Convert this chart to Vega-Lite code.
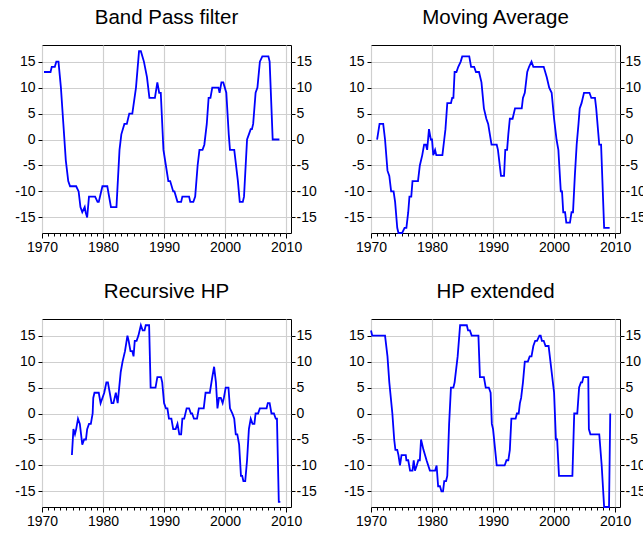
{
  "$schema": "https://vega.github.io/schema/vega-lite/v6.json",
  "padding": {"left": 14, "top": 7, "right": 0, "bottom": 0},
  "columns": 2,
  "spacing": {"column": 26, "row": 26},
  "datasets": {
    "bp": [
      {"t":1970.33,"v":13},{"t":1971.4,"v":13},{"t":1971.6,"v":14},{"t":1972.1,"v":14},{"t":1972.35,"v":15},{"t":1972.7,"v":15},
      {"t":1973.1,"v":10},{"t":1973.5,"v":3},{"t":1973.9,"v":-4},{"t":1974.3,"v":-8},{"t":1974.6,"v":-9},{"t":1975.6,"v":-9},
      {"t":1976.0,"v":-10},{"t":1976.3,"v":-13},{"t":1976.6,"v":-14},{"t":1977.0,"v":-13},{"t":1977.15,"v":-14},{"t":1977.4,"v":-15},
      {"t":1977.7,"v":-11},{"t":1978.7,"v":-11},{"t":1979.1,"v":-12},{"t":1979.3,"v":-12},{"t":1979.9,"v":-9},{"t":1980.7,"v":-9},
      {"t":1981.3,"v":-13},{"t":1982.2,"v":-13},{"t":1982.7,"v":-2},{"t":1983.0,"v":1},{"t":1983.5,"v":3},{"t":1983.9,"v":3},
      {"t":1984.3,"v":5},{"t":1984.8,"v":5},{"t":1985.4,"v":10},{"t":1985.9,"v":17},{"t":1986.2,"v":17},{"t":1986.7,"v":15},
      {"t":1987.2,"v":12},{"t":1987.6,"v":8},{"t":1988.5,"v":8},{"t":1988.9,"v":11},{"t":1989.2,"v":9},{"t":1989.46,"v":9},
      {"t":1989.9,"v":-2},{"t":1990.3,"v":-5},{"t":1990.7,"v":-8},{"t":1991.0,"v":-8},{"t":1991.5,"v":-10},{"t":1991.7,"v":-10},
      {"t":1992.2,"v":-12},{"t":1992.8,"v":-12},{"t":1993.0,"v":-11},{"t":1994.1,"v":-11},{"t":1994.3,"v":-12},{"t":1994.8,"v":-12},
      {"t":1995.1,"v":-11},{"t":1995.5,"v":-5},{"t":1995.8,"v":-2},{"t":1996.3,"v":-2},{"t":1996.6,"v":-1},{"t":1997.0,"v":3},
      {"t":1997.3,"v":8},{"t":1997.6,"v":8},{"t":1997.9,"v":10},{"t":1998.9,"v":10},{"t":1999.1,"v":9},{"t":1999.4,"v":11},
      {"t":1999.7,"v":11},{"t":2000.2,"v":9},{"t":2000.6,"v":1},{"t":2000.8,"v":-2},{"t":2001.5,"v":-2},{"t":2002.1,"v":-8},
      {"t":2002.4,"v":-12},{"t":2002.9,"v":-12},{"t":2003.1,"v":-11},{"t":2003.6,"v":0},{"t":2003.9,"v":1},{"t":2004.2,"v":2},
      {"t":2004.4,"v":2},{"t":2004.6,"v":3},{"t":2005.0,"v":9},{"t":2005.3,"v":10},{"t":2005.7,"v":15},{"t":2006.1,"v":16},
      {"t":2007.1,"v":16},{"t":2007.3,"v":15},{"t":2007.8,"v":0},{"t":2008.9,"v":0}
    ],
    "ma": [
      {"t":1971.0,"v":0},{"t":1971.4,"v":3},{"t":1972.0,"v":3},{"t":1972.3,"v":0},{"t":1972.7,"v":-6},{"t":1973.0,"v":-7},
      {"t":1973.3,"v":-10},{"t":1973.7,"v":-10},{"t":1973.95,"v":-12},{"t":1974.3,"v":-17},{"t":1974.5,"v":-18},{"t":1975.1,"v":-18},
      {"t":1975.5,"v":-17},{"t":1975.8,"v":-17},{"t":1976.1,"v":-14},{"t":1976.3,"v":-11},{"t":1976.6,"v":-11},{"t":1976.8,"v":-8},
      {"t":1977.7,"v":-8},{"t":1978.0,"v":-5},{"t":1978.4,"v":-3},{"t":1978.7,"v":-1},{"t":1979.0,"v":-1},{"t":1979.2,"v":-2},
      {"t":1979.5,"v":2},{"t":1979.8,"v":0},{"t":1980.0,"v":0},{"t":1980.2,"v":-3},{"t":1980.5,"v":-2},{"t":1980.7,"v":-3},
      {"t":1981.7,"v":-3},{"t":1982.0,"v":0},{"t":1982.2,"v":2},{"t":1982.5,"v":7},{"t":1983.1,"v":7},{"t":1983.3,"v":8},
      {"t":1983.5,"v":8},{"t":1983.7,"v":13},{"t":1984.0,"v":13},{"t":1984.3,"v":14},{"t":1984.7,"v":15},{"t":1984.95,"v":16},
      {"t":1986.1,"v":16},{"t":1986.4,"v":14},{"t":1986.9,"v":14},{"t":1987.2,"v":13},{"t":1987.7,"v":13},{"t":1988.1,"v":11},
      {"t":1988.5,"v":6},{"t":1988.9,"v":4},{"t":1989.2,"v":3},{"t":1989.75,"v":-1},{"t":1990.6,"v":-1},{"t":1990.8,"v":-2},
      {"t":1991.3,"v":-7},{"t":1991.8,"v":-7},{"t":1992.0,"v":-2},{"t":1992.3,"v":-2},{"t":1992.5,"v":1},{"t":1992.75,"v":4},
      {"t":1993.2,"v":4},{"t":1993.6,"v":6},{"t":1994.7,"v":6},{"t":1994.9,"v":8},{"t":1995.2,"v":9},{"t":1995.6,"v":13},
      {"t":1995.9,"v":14},{"t":1996.3,"v":15},{"t":1996.6,"v":14},{"t":1998.3,"v":14},{"t":1998.8,"v":12},{"t":1999.2,"v":10},
      {"t":1999.6,"v":9},{"t":2000.0,"v":4},{"t":2000.4,"v":0},{"t":2000.7,"v":-2},{"t":2001.1,"v":-10},{"t":2001.3,"v":-10},
      {"t":2001.5,"v":-14},{"t":2001.8,"v":-14},{"t":2002.0,"v":-16},{"t":2002.6,"v":-16},{"t":2002.86,"v":-14},{"t":2003.1,"v":-14},
      {"t":2003.4,"v":-7},{"t":2003.7,"v":-1},{"t":2004.0,"v":3},{"t":2004.2,"v":6},{"t":2004.5,"v":7},{"t":2004.9,"v":9},
      {"t":2005.8,"v":9},{"t":2006.1,"v":8},{"t":2006.7,"v":8},{"t":2006.9,"v":6},{"t":2007.4,"v":-1},{"t":2007.7,"v":-1},
      {"t":2008.2,"v":-17},{"t":2009.1,"v":-17}
    ],
    "rhp": [
      {"t":1974.9,"v":-8},{"t":1975.15,"v":-3},{"t":1975.4,"v":-4},{"t":1975.6,"v":-3},{"t":1975.9,"v":-1},{"t":1976.2,"v":-2},
      {"t":1976.6,"v":-6},{"t":1976.9,"v":-5},{"t":1977.2,"v":-5},{"t":1977.4,"v":-3},{"t":1977.7,"v":-2},{"t":1978.0,"v":-2},
      {"t":1978.3,"v":0},{"t":1978.4,"v":3},{"t":1978.6,"v":4},{"t":1979.3,"v":4},{"t":1979.6,"v":2},{"t":1979.9,"v":3},
      {"t":1980.2,"v":4},{"t":1980.55,"v":6},{"t":1980.8,"v":6},{"t":1981.1,"v":4},{"t":1981.4,"v":2},{"t":1981.7,"v":2},
      {"t":1982.1,"v":4},{"t":1982.4,"v":2},{"t":1982.9,"v":8},{"t":1983.2,"v":10},{"t":1983.6,"v":12},{"t":1984.0,"v":15},
      {"t":1984.2,"v":14},{"t":1984.5,"v":12},{"t":1984.8,"v":12},{"t":1985.0,"v":11},{"t":1985.2,"v":14},{"t":1985.5,"v":14},
      {"t":1985.8,"v":15},{"t":1986.2,"v":17},{"t":1986.5,"v":16},{"t":1986.8,"v":16},{"t":1987.0,"v":17},{"t":1987.55,"v":17},
      {"t":1987.8,"v":5},{"t":1988.6,"v":5},{"t":1988.9,"v":7},{"t":1989.5,"v":7},{"t":1989.7,"v":6},{"t":1990.0,"v":2},
      {"t":1990.3,"v":1},{"t":1990.55,"v":1},{"t":1990.8,"v":-1},{"t":1991.2,"v":-1},{"t":1991.5,"v":-3},{"t":1991.9,"v":-3},
      {"t":1992.2,"v":-2},{"t":1992.5,"v":-4},{"t":1992.8,"v":-4},{"t":1993.0,"v":-1},{"t":1993.3,"v":-1},{"t":1993.7,"v":1},
      {"t":1994.1,"v":1},{"t":1994.4,"v":0},{"t":1994.6,"v":0},{"t":1994.9,"v":-1},{"t":1995.4,"v":-1},{"t":1995.7,"v":1},
      {"t":1996.5,"v":1},{"t":1996.8,"v":4},{"t":1997.5,"v":4},{"t":1997.9,"v":7},{"t":1998.2,"v":9},{"t":1998.5,"v":6},
      {"t":1998.75,"v":1},{"t":1999.0,"v":3},{"t":1999.3,"v":3},{"t":1999.6,"v":2},{"t":1999.8,"v":3},{"t":2000.1,"v":5},
      {"t":2000.55,"v":5},{"t":2000.8,"v":1},{"t":2001.2,"v":0},{"t":2001.5,"v":-1},{"t":2001.75,"v":-4},{"t":2002.0,"v":-4},
      {"t":2002.3,"v":-6},{"t":2002.6,"v":-12},{"t":2002.8,"v":-12},{"t":2003.0,"v":-13},{"t":2003.3,"v":-13},{"t":2003.6,"v":-9},
      {"t":2003.9,"v":-3},{"t":2004.2,"v":-1},{"t":2004.5,"v":-2},{"t":2004.8,"v":-2},{"t":2005.0,"v":0},{"t":2005.4,"v":0},
      {"t":2005.7,"v":1},{"t":2006.8,"v":1},{"t":2007.0,"v":2},{"t":2007.3,"v":2},{"t":2007.6,"v":0},{"t":2008.0,"v":0},
      {"t":2008.3,"v":-1},{"t":2008.5,"v":-1},{"t":2008.8,"v":-17},{"t":2009.05,"v":-17}
    ],
    "hpe": [
      {"t":1970.0,"v":16},{"t":1970.2,"v":15},{"t":1972.3,"v":15},{"t":1972.7,"v":11},{"t":1973.0,"v":6},{"t":1973.5,"v":0},
      {"t":1973.8,"v":-5},{"t":1974.0,"v":-7},{"t":1974.3,"v":-7},{"t":1974.5,"v":-8},{"t":1974.75,"v":-10},{"t":1975.0,"v":-8},
      {"t":1975.7,"v":-8},{"t":1975.8,"v":-9},{"t":1976.1,"v":-9},{"t":1976.4,"v":-11},{"t":1976.8,"v":-11},{"t":1977.0,"v":-9},
      {"t":1977.2,"v":-11},{"t":1977.5,"v":-10},{"t":1977.75,"v":-9},{"t":1978.0,"v":-9},{"t":1978.2,"v":-5},{"t":1978.6,"v":-7},
      {"t":1979.1,"v":-9},{"t":1979.65,"v":-11},{"t":1980.5,"v":-11},{"t":1980.75,"v":-10},{"t":1981.0,"v":-14},{"t":1981.3,"v":-14},
      {"t":1981.55,"v":-15},{"t":1981.8,"v":-15},{"t":1982.0,"v":-13},{"t":1982.3,"v":-13},{"t":1982.5,"v":-12},{"t":1982.8,"v":-2},
      {"t":1983.1,"v":5},{"t":1983.5,"v":5},{"t":1983.7,"v":6},{"t":1984.2,"v":11},{"t":1984.6,"v":17},{"t":1985.7,"v":17},
      {"t":1985.9,"v":16},{"t":1986.2,"v":16},{"t":1986.5,"v":15},{"t":1987.6,"v":15},{"t":1987.85,"v":7},{"t":1988.5,"v":7},
      {"t":1988.8,"v":5},{"t":1989.3,"v":5},{"t":1989.6,"v":4},{"t":1989.8,"v":-2},{"t":1990.0,"v":-3},{"t":1990.6,"v":-10},
      {"t":1991.9,"v":-10},{"t":1992.2,"v":-9},{"t":1992.5,"v":-9},{"t":1992.75,"v":-7},{"t":1993.0,"v":-1},{"t":1993.7,"v":-1},
      {"t":1993.9,"v":0},{"t":1994.2,"v":0},{"t":1994.4,"v":2},{"t":1994.6,"v":3},{"t":1994.9,"v":6},{"t":1995.2,"v":10},
      {"t":1995.7,"v":10},{"t":1996.0,"v":11},{"t":1996.3,"v":11},{"t":1996.6,"v":13},{"t":1996.9,"v":14},{"t":1997.2,"v":14},
      {"t":1997.6,"v":15},{"t":1997.8,"v":15},{"t":1998.0,"v":14},{"t":1998.3,"v":14},{"t":1998.6,"v":13},{"t":1999.1,"v":13},
      {"t":1999.6,"v":8},{"t":2000.0,"v":4},{"t":2000.3,"v":-5},{"t":2000.5,"v":-5},{"t":2000.8,"v":-12},{"t":2003.0,"v":-12},
      {"t":2003.3,"v":0},{"t":2003.8,"v":0},{"t":2004.1,"v":5},{"t":2004.4,"v":6},{"t":2004.6,"v":6},{"t":2004.8,"v":7},
      {"t":2005.6,"v":7},{"t":2005.7,"v":-3},{"t":2005.95,"v":-4},{"t":2007.4,"v":-4},{"t":2007.8,"v":-10},{"t":2008.2,"v":-18},
      {"t":2009.0,"v":-18},{"t":2009.2,"v":0}
    ]
  },
  "config": {
    "view": {"stroke": "#000000", "strokeWidth": 1},
    "axis": {"labelFont": "Liberation Sans", "labelFontSize": 14, "labelColor": "#000000", "tickColor": "#000000", "domain": false, "gridColor": "#cfcfcf", "gridWidth": 1.2, "labelFlush": false, "labelOverlap": false},
    "title": {"font": "Liberation Sans", "fontSize": 20.5, "fontWeight": "normal", "color": "#000000", "anchor": "middle", "frame": "group", "baseline": "alphabetic", "offset": 16.5},
    "line": {"color": "#0000ff", "strokeWidth": 1.8}
  },
  "concat": [
    {
      "title": "Band Pass filter",
      "width": 249, "height": 188,
      "data": {"name": "bp"},
      "layer": [
        {"mark": {"type": "line"},
         "encoding": {
           "x": {"field": "t", "type": "quantitative", "title": null, "scale": {"domain": [1970, 2010.8], "nice": false, "zero": false}, "axis": {"orient": "bottom", "values": [1970, 1980, 1990, 2000, 2010], "format": "d", "tickSize": 5, "labelPadding": 2, "grid": true}},
           "y": {"field": "v", "type": "quantitative", "title": null, "scale": {"domain": [-18, 18.2], "nice": false, "zero": false}, "axis": {"orient": "left", "values": [-15, -10, -5, 0, 5, 10, 15], "labelExpr": "datum.value < 0 ? '-' + abs(datum.value) : '' + datum.value", "tickSize": 4, "labelPadding": 3, "grid": true}}
         }},
        {"mark": {"type": "line", "strokeOpacity": 0},
         "encoding": {
           "x": {"field": "t", "type": "quantitative", "title": null, "scale": {"domain": [1970, 2010.8], "nice": false, "zero": false}, "axis": {"orient": "bottom", "values": [1971,1972,1973,1974,1975,1976,1977,1978,1979,1981,1982,1983,1984,1985,1986,1987,1988,1989,1991,1992,1993,1994,1995,1996,1997,1998,1999,2001,2002,2003,2004,2005,2006,2007,2008,2009], "labels": false, "grid": false, "tickSize": 3}},
           "y": {"field": "v", "type": "quantitative", "title": null, "scale": {"domain": [-18, 18.2], "nice": false, "zero": false}, "axis": {"orient": "right", "values": [-15, -10, -5, 0, 5, 10, 15], "labelExpr": "datum.value < 0 ? '-' + abs(datum.value) : '' + datum.value", "tickSize": 4, "labelPadding": 1, "grid": false}}
         }}
      ],
      "resolve": {"axis": {"x": "independent", "y": "independent"}}
    },
    {
      "title": "Moving Average",
      "width": 249, "height": 188,
      "data": {"name": "ma"},
      "layer": [
        {"mark": {"type": "line"},
         "encoding": {
           "x": {"field": "t", "type": "quantitative", "title": null, "scale": {"domain": [1970, 2010.8], "nice": false, "zero": false}, "axis": {"orient": "bottom", "values": [1970, 1980, 1990, 2000, 2010], "format": "d", "tickSize": 5, "labelPadding": 2, "grid": true}},
           "y": {"field": "v", "type": "quantitative", "title": null, "scale": {"domain": [-18, 18.2], "nice": false, "zero": false}, "axis": {"orient": "left", "values": [-15, -10, -5, 0, 5, 10, 15], "labelExpr": "datum.value < 0 ? '-' + abs(datum.value) : '' + datum.value", "tickSize": 4, "labelPadding": 3, "grid": true}}
         }},
        {"mark": {"type": "line", "strokeOpacity": 0},
         "encoding": {
           "x": {"field": "t", "type": "quantitative", "title": null, "scale": {"domain": [1970, 2010.8], "nice": false, "zero": false}, "axis": {"orient": "bottom", "values": [1971,1972,1973,1974,1975,1976,1977,1978,1979,1981,1982,1983,1984,1985,1986,1987,1988,1989,1991,1992,1993,1994,1995,1996,1997,1998,1999,2001,2002,2003,2004,2005,2006,2007,2008,2009], "labels": false, "grid": false, "tickSize": 3}},
           "y": {"field": "v", "type": "quantitative", "title": null, "scale": {"domain": [-18, 18.2], "nice": false, "zero": false}, "axis": {"orient": "right", "values": [-15, -10, -5, 0, 5, 10, 15], "labelExpr": "datum.value < 0 ? '-' + abs(datum.value) : '' + datum.value", "tickSize": 4, "labelPadding": 1, "grid": false}}
         }}
      ],
      "resolve": {"axis": {"x": "independent", "y": "independent"}}
    },
    {
      "title": "Recursive HP",
      "width": 249, "height": 188,
      "data": {"name": "rhp"},
      "layer": [
        {"mark": {"type": "line"},
         "encoding": {
           "x": {"field": "t", "type": "quantitative", "title": null, "scale": {"domain": [1970, 2010.8], "nice": false, "zero": false}, "axis": {"orient": "bottom", "values": [1970, 1980, 1990, 2000, 2010], "format": "d", "tickSize": 5, "labelPadding": 2, "grid": true}},
           "y": {"field": "v", "type": "quantitative", "title": null, "scale": {"domain": [-18, 18.2], "nice": false, "zero": false}, "axis": {"orient": "left", "values": [-15, -10, -5, 0, 5, 10, 15], "labelExpr": "datum.value < 0 ? '-' + abs(datum.value) : '' + datum.value", "tickSize": 4, "labelPadding": 3, "grid": true}}
         }},
        {"mark": {"type": "line", "strokeOpacity": 0},
         "encoding": {
           "x": {"field": "t", "type": "quantitative", "title": null, "scale": {"domain": [1970, 2010.8], "nice": false, "zero": false}, "axis": {"orient": "bottom", "values": [1971,1972,1973,1974,1975,1976,1977,1978,1979,1981,1982,1983,1984,1985,1986,1987,1988,1989,1991,1992,1993,1994,1995,1996,1997,1998,1999,2001,2002,2003,2004,2005,2006,2007,2008,2009], "labels": false, "grid": false, "tickSize": 3}},
           "y": {"field": "v", "type": "quantitative", "title": null, "scale": {"domain": [-18, 18.2], "nice": false, "zero": false}, "axis": {"orient": "right", "values": [-15, -10, -5, 0, 5, 10, 15], "labelExpr": "datum.value < 0 ? '-' + abs(datum.value) : '' + datum.value", "tickSize": 4, "labelPadding": 1, "grid": false}}
         }}
      ],
      "resolve": {"axis": {"x": "independent", "y": "independent"}}
    },
    {
      "title": "HP extended",
      "width": 249, "height": 188,
      "data": {"name": "hpe"},
      "layer": [
        {"mark": {"type": "line"},
         "encoding": {
           "x": {"field": "t", "type": "quantitative", "title": null, "scale": {"domain": [1970, 2010.8], "nice": false, "zero": false}, "axis": {"orient": "bottom", "values": [1970, 1980, 1990, 2000, 2010], "format": "d", "tickSize": 5, "labelPadding": 2, "grid": true}},
           "y": {"field": "v", "type": "quantitative", "title": null, "scale": {"domain": [-18, 18.2], "nice": false, "zero": false}, "axis": {"orient": "left", "values": [-15, -10, -5, 0, 5, 10, 15], "labelExpr": "datum.value < 0 ? '-' + abs(datum.value) : '' + datum.value", "tickSize": 4, "labelPadding": 3, "grid": true}}
         }},
        {"mark": {"type": "line", "strokeOpacity": 0},
         "encoding": {
           "x": {"field": "t", "type": "quantitative", "title": null, "scale": {"domain": [1970, 2010.8], "nice": false, "zero": false}, "axis": {"orient": "bottom", "values": [1971,1972,1973,1974,1975,1976,1977,1978,1979,1981,1982,1983,1984,1985,1986,1987,1988,1989,1991,1992,1993,1994,1995,1996,1997,1998,1999,2001,2002,2003,2004,2005,2006,2007,2008,2009], "labels": false, "grid": false, "tickSize": 3}},
           "y": {"field": "v", "type": "quantitative", "title": null, "scale": {"domain": [-18, 18.2], "nice": false, "zero": false}, "axis": {"orient": "right", "values": [-15, -10, -5, 0, 5, 10, 15], "labelExpr": "datum.value < 0 ? '-' + abs(datum.value) : '' + datum.value", "tickSize": 4, "labelPadding": 1, "grid": false}}
         }}
      ],
      "resolve": {"axis": {"x": "independent", "y": "independent"}}
    }
  ]
}
